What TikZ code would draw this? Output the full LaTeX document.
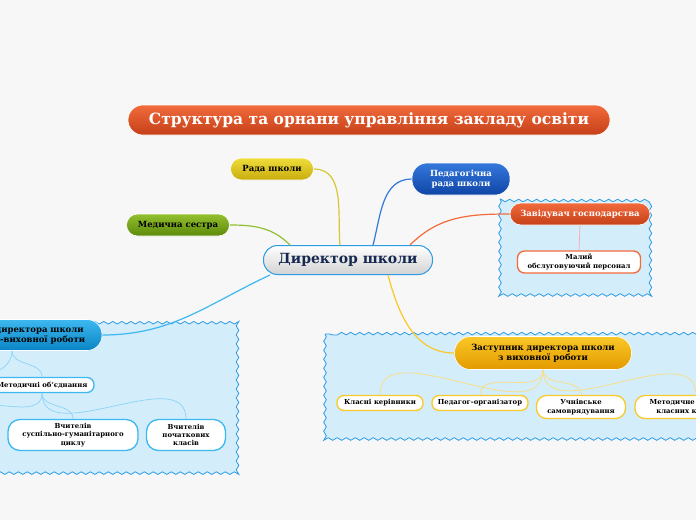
\documentclass[tikz,border=0pt]{standalone}
\usepackage{fontspec}
\setmainfont{DejaVu Serif}
\usetikzlibrary{decorations.pathmorphing,shadings}

\definecolor{redtop}{HTML}{F26B3C}
\definecolor{redbot}{HTML}{C53F18}
\definecolor{yeltop}{HTML}{EEDD3A}
\definecolor{yelbot}{HTML}{C9AC0E}
\definecolor{bluetop}{HTML}{3478DC}
\definecolor{bluebot}{HTML}{0F45A6}
\definecolor{greentop}{HTML}{93C02E}
\definecolor{greenbot}{HTML}{5C8A0B}
\definecolor{goldtop}{HTML}{FAC828}
\definecolor{goldbot}{HTML}{E39A00}
\definecolor{skytop}{HTML}{3DB8F0}
\definecolor{skybot}{HTML}{0A84C4}
\definecolor{boxfill}{HTML}{D3EDFB}
\definecolor{boxline}{HTML}{2C9BE4}
\definecolor{navy}{HTML}{15284F}

\tikzset{
  pill/.style={rounded corners=11pt, inner sep=2pt, align=center,
    font=\bfseries\fontsize{8.5}{10}\selectfont, draw=white, line width=0.6pt},
  leaf/.style={draw, line width=1.3pt, fill=white, rounded corners=7pt, align=center,
    inner sep=1pt, font=\bfseries\fontsize{6.9}{8.3}\selectfont},
  zone/.style={fill=boxfill, draw=boxline, line width=0.8pt, decorate,
    decoration={snake, segment length=9pt, amplitude=1.3pt}},
  twig/.style={line width=0.7pt}
}

\begin{document}
\begin{tikzpicture}[x=1pt, y=1pt]
    % Поле малюнка
    \useasboundingbox (0,0) rectangle (696,-520);
    \clip (0,0) rectangle (696,-520);
    \fill[white!97!black] (0,0) rectangle (696,-520);

    % Блакитні області
    \path[zone] (-10,-316) rectangle (238,-470);
    \path[zone] (500,-199) rectangle (650,-295);
    \path[zone] (325,-334) rectangle (710,-440);

    % Заголовок
    \node[pill, rounded corners=15pt, top color=redtop, bottom color=redbot, text=white,
      minimum width=482pt, minimum height=30pt, font=\bfseries\fontsize{15.5}{17}\selectfont]
      (titul) at (369,-120) {Структура та орнани управління закладу освіти};

    % Директор
    \node[rounded corners=14pt, top color=white, bottom color=gray!35, draw=boxline,
      line width=1pt, minimum width=169pt, minimum height=29pt, text=navy,
      font=\bfseries\fontsize{14}{15}\selectfont] (dyr) at (348,-260) {Директор школи};

    % Перший рівень
    \node[pill, top color=yeltop, bottom color=yelbot, minimum width=83pt, minimum height=22pt]
      (rada) at (272,-169) {Рада школи};
    \node[pill, rounded corners=15pt, top color=bluetop, bottom color=bluebot, text=white,
      minimum width=98pt, minimum height=32pt] (ped) at (461,-179) {Педагогічна\\рада школи};
    \node[pill, top color=greentop, bottom color=greenbot, minimum width=103pt, minimum height=22pt]
      (med) at (178,-225) {Медична сестра};
    \node[pill, top color=redtop, bottom color=redbot, text=white, minimum width=140pt,
      minimum height=22pt] (zav) at (580,-214) {Завідувач господарства};
    \node[pill, rounded corners=15pt, top color=skytop, bottom color=skybot, minimum width=180pt,
      minimum height=31pt] (znvr) at (12,-335) {Заступник директора школи\\з навчально-виховної роботи};
    \node[pill, rounded corners=16pt, top color=goldtop, bottom color=goldbot, minimum width=177pt,
      minimum height=33pt] (zvr) at (543,-353) {Заступник директора школи\\з виховної роботи};

    % Другий рівень
    \node[leaf, draw=redtop, minimum width=123pt, minimum height=22pt] (malyi) at (579,-262)
      {Малий\\обслуговуючий персонал};
    \node[leaf, draw=skytop, minimum width=104pt, minimum height=15pt] (metod) at (42,-385)
      {Методичні об'єднання};
    \node[leaf, draw=skytop, rounded corners=12pt, minimum width=130pt, minimum height=31pt]
      (vsg) at (73,-435) {Вчителів\\суспільно-гуманітарного\\циклу};
    \node[leaf, draw=skytop, rounded corners=12pt, minimum width=79pt, minimum height=31pt]
      (vpk) at (186,-435) {Вчителів\\початкових\\класів};
    \node[leaf, draw=goldtop, minimum width=86pt, minimum height=15pt] (klas) at (380,-403)
      {Класні керівники};
    \node[leaf, draw=goldtop, minimum width=96pt, minimum height=15pt] (orh) at (480,-403)
      {Педагог-організатор};
    \node[leaf, draw=goldtop, rounded corners=10pt, minimum width=89pt, minimum height=23pt]
      (uchn) at (581,-407) {Учнівське\\самоврядування};
    \node[leaf, draw=goldtop, rounded corners=10pt, minimum width=122pt, minimum height=23pt]
      (mok) at (696,-407) {Методичне об'єднання\\класних керівників};

    % Вільні кінці за краєм
    \coordinate (liv1) at (-10,-372);
    \coordinate (liv2) at (-10,-405);

    % Гілки від директора
    \draw[yeltop!90!black, line width=1.2pt] ([xshift=-8pt]dyr.north) to[out=95, in=0] (rada.east);
    \draw[bluetop, line width=1.2pt] ([xshift=25pt]dyr.north) to[out=75, in=180] (ped.west);
    \draw[redtop, line width=1.2pt] ([xshift=62pt]dyr.north) to[out=45, in=180] (zav.west);
    \draw[greentop, line width=1.2pt] ([xshift=-58pt]dyr.north) to[out=135, in=0] (med.east);
    \draw[skytop, line width=1.2pt] ([xshift=-78pt]dyr.south) to[out=205, in=0] (znvr.east);
    \draw[goldtop, line width=1.2pt] ([xshift=40pt]dyr.south) to[out=-75, in=180] (zvr.west);

    % Дрібні гілки
    \draw[twig, red!35] (zav.south) -- (malyi.north);
    \foreach \k in {klas, orh, uchn, mok}
      \draw[twig, goldtop!60] (zvr.south) to[out=-90, in=90] (\k.north);
    \draw[twig, skytop!60] (znvr.south) to[out=-90, in=90] (metod.north);
    \draw[twig, skytop!60] (znvr.south) to[out=-90, in=0] (liv1);
    \foreach \k in {vsg, vpk}
      \draw[twig, skytop!60] (metod.south) to[out=-90, in=90] (\k.north);
    \draw[twig, skytop!60] (metod.south) to[out=-90, in=0] (liv2);
\end{tikzpicture}
\end{document}
